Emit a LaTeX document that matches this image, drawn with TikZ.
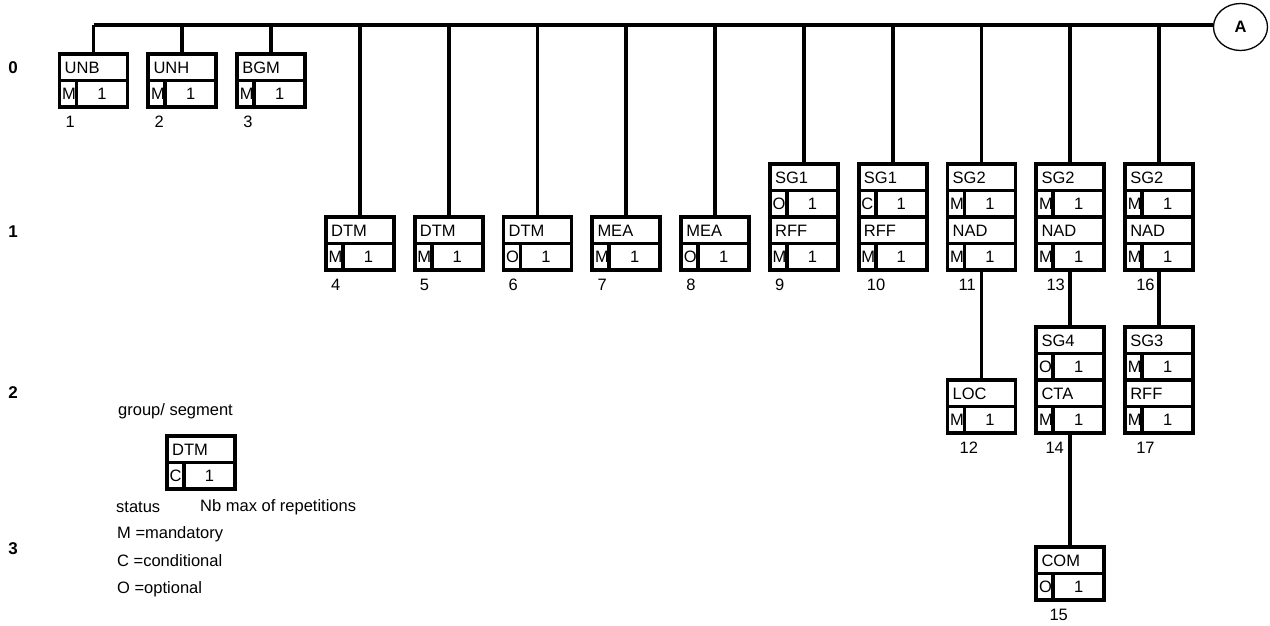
\documentclass[tikz,border=0pt]{standalone}
\usepackage{fontspec}
\setmainfont{Liberation Sans}
\usetikzlibrary{calc,shapes.geometric}
\tikzset{
  ln/.style={line width=3.8pt},
  txt/.style={font=\fontsize{16.5}{19}\selectfont, inner sep=0pt},
  lvl/.style={font=\fontsize{17}{19}\selectfont\bfseries, inner sep=0pt},
  boxnode/.style={draw, line width=3.8pt, minimum width=68pt, inner sep=0pt, outer sep=0pt},
}
% single segment box: name, cx, top, label, status, number, number offset
\newcommand{\segbox}[7]{%
  \node[boxnode, anchor=north, minimum height=53pt] (#1) at (#2,#3) {};
  \node[txt, anchor=west] (#1-l) at ($(#1.north west)+(5,13.5)$) {#4};
  \node[txt, anchor=west] (#1-s) at ($(#1.north west)+(2.5,40)$) {#5};
  \node[txt] (#1-r) at ($(#1.north west)+(42.5,40)$) {1};
  \draw[ln] (#1.west) -- (#1.east);
  \draw[ln] ($(#1.north west)+(17,26.5)$) -- ($(#1.south west)+(17,0)$);
  \node[txt, anchor=west] (#1-n) at ($(#1.south west)+(#7,15)$) {#6};
}
% group box: name, cx, top, group, gstatus, segment, sstatus, number, offset
\newcommand{\grpbox}[9]{%
  \node[boxnode, anchor=north, minimum height=106pt] (#1) at (#2,#3) {};
  \node[txt, anchor=west] (#1-g) at ($(#1.north west)+(5,13.5)$) {#4};
  \node[txt, anchor=west] (#1-gs) at ($(#1.north west)+(2.5,40)$) {#5};
  \node[txt] (#1-gr) at ($(#1.north west)+(42.5,40)$) {1};
  \node[txt, anchor=west] (#1-l) at ($(#1.north west)+(5,66.5)$) {#6};
  \node[txt, anchor=west] (#1-s) at ($(#1.north west)+(2.5,93)$) {#7};
  \node[txt] (#1-r) at ($(#1.north west)+(42.5,93)$) {1};
  \draw[ln] ($(#1.north west)+(0,26.5)$) -- ($(#1.north east)+(0,26.5)$);
  \draw[ln] (#1.west) -- (#1.east);
  \draw[ln] ($(#1.north west)+(0,79.5)$) -- ($(#1.north east)+(0,79.5)$);
  \draw[ln] ($(#1.north west)+(17,26.5)$) -- ($(#1.north west)+(17,53)$);
  \draw[ln] ($(#1.north west)+(17,79.5)$) -- ($(#1.south west)+(17,0)$);
  \node[txt, anchor=west] (#1-n) at ($(#1.south west)+(#9,15)$) {#8};
}
\begin{document}
\begin{tikzpicture}[x=1pt,y=-1pt]
\useasboundingbox (0,0) rectangle (1270,626);

% level numbers
\node[lvl] (L0) at (13,68) {0};
\node[lvl] (L1) at (13,232) {1};
\node[lvl] (L2) at (13,393) {2};
\node[lvl] (L3) at (13,549) {3};

% level 0
\segbox{b1}{93.5}{54}{UNB}{M}{1}{6}
\segbox{b2}{182.3}{54}{UNH}{M}{2}{6}
\segbox{b3}{271.1}{54}{BGM}{M}{3}{6}

% level 1
\segbox{b4}{359.9}{217}{DTM}{M}{4}{5}
\segbox{b5}{448.7}{217}{DTM}{M}{5}{5}
\segbox{b6}{537.5}{217}{DTM}{O}{6}{5}
\segbox{b7}{626.3}{217}{MEA}{M}{7}{5}
\segbox{b8}{715.1}{217}{MEA}{O}{8}{5}
\grpbox{b9}{803.9}{164}{SG1}{O}{RFF}{M}{9}{5}
\grpbox{b10}{892.7}{164}{SG1}{C}{RFF}{M}{10}{8}
\grpbox{b11}{981.5}{164}{SG2}{M}{NAD}{M}{11}{11}
\grpbox{b13}{1070.3}{164}{SG2}{M}{NAD}{M}{13}{10}
\grpbox{b16}{1159.1}{164}{SG2}{M}{NAD}{M}{16}{11}

% level 2
\segbox{b12}{981.5}{380}{LOC}{M}{12}{12}
\grpbox{b14}{1070.3}{327}{SG4}{O}{CTA}{M}{14}{9}
\grpbox{b17}{1159.1}{327}{SG3}{M}{RFF}{M}{17}{11}

% level 3
\segbox{b15}{1070.3}{547}{COM}{O}{15}{13}

% bus and connector circle
\node[ellipse, draw, line width=1.3pt, minimum width=54pt, minimum height=47pt, inner sep=0pt,
      font=\fontsize{16.5}{19}\selectfont\bfseries] (A) at (1240.5,27) {A};
\coordinate (bus) at (93.5,25);
\draw[ln] (bus) -- (bus -| A.west);
\foreach \n in {b1,b2,b3,b4,b5,b6,b7,b8,b9,b10,b11,b13,b16}{
  \draw[ln] (\n.north) -- (\n.north |- bus);
}
\draw[ln] (b11.south) -- (b12.north);
\draw[ln] (b13.south) -- (b14.north);
\draw[ln] (b16.south) -- (b17.north);
\draw[ln] (b14.south) -- (b15.north);

% legend
\node[txt, anchor=west] (lg) at (118,411) {group/ segment};
\segbox{leg}{201}{436}{DTM}{C}{}{0}
\node[txt, anchor=west] (lst) at (116,507) {status};
\node[txt, anchor=west] (lnb) at (200,507) {Nb max of repetitions};
\node[txt, anchor=west] (lm) at (117,534) {M =mandatory};
\node[txt, anchor=west] (lc) at (117,561) {C =conditional};
\node[txt, anchor=west] (lo) at (117,589) {O =optional};
\end{tikzpicture}
\end{document}
